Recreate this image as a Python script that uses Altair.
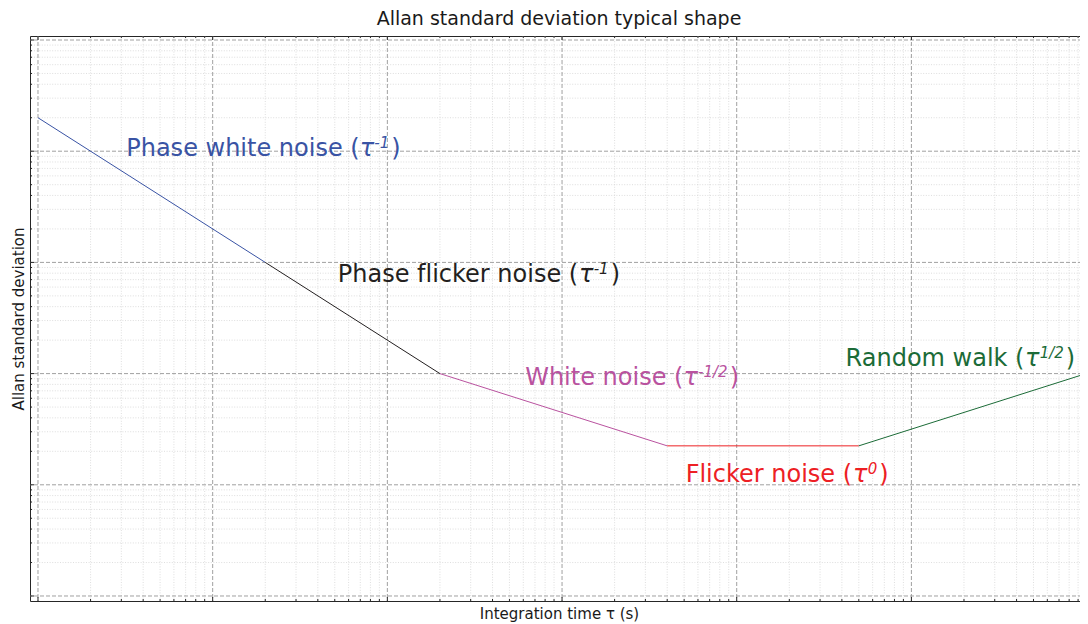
import altair as alt
import pandas as pd

W, H = 1058, 565
FONT = "DejaVu Sans"

# ---- data ----
seg_names = ["Phase white noise", "Phase flicker noise", "White noise", "Flicker noise", "Random walk"]
seg_colors = ["#3953A4", "#231F20", "#B9529F", "#ED2024", "#1B6B37"]
seg_tau = [[1, 20], [20, 200], [200, 4000], [4000, 50000], [50000, 1000000]]
seg_sigma = [[20000, 1000], [1000, 100], [100, 22.4], [22.4, 22.4], [22.4, 100]]

label_main = ["Phase white noise (", "Phase f\u200clicker noise (", "White noise (", "Flicker noise (", "Random walk ("]
label_sup = ["-1", "-1", "-1/2", "0", "1/2"]
label_tau = [3.2, 52, 615, 5100, 42000]
label_sigma = [9100, 665, 79, 10.7, 116]

x_major = [1, 10, 100, 1e3, 1e4, 1e5, 1e6]
y_major = [1, 10, 100, 1e3, 1e4, 1e5]
mult = [2, 3, 4, 5, 6, 7, 8, 9]
x_minor = [m * d for d in [1, 10, 100, 1e3, 1e4, 1e5] for m in mult]
y_minor = [m * d for d in [1, 10, 100, 1e3, 1e4] for m in mult]
x_domain = [0.9, 1.0257e6]
y_domain = [0.9016, 1.0864e5]

# approximate DejaVu Sans advance widths (units of 1/2048 em)
ADV = {" ": 651, "(": 799, ")": 799, "P": 1235, "h": 1298, "a": 1255, "s": 1067, "e": 1260,
       "w": 1675, "i": 569, "t": 803, "n": 1298, "o": 1253, "l": 569, "c": 1126, "k": 1186,
       "r": 842, "F": 1178, "W": 2025, "R": 1423, "d": 1300, "m": 1995, "-": 739, "1": 1303,
       "/": 690, "2": 1303, "0": 1303, "τ": 1170, "f": 721, "\u200c": 0}


def tw(s, size):
    return sum(ADV.get(ch, 1200) for ch in s) / 2048 * size


xs = alt.Scale(type="log", domain=x_domain, nice=False)
ys = alt.Scale(type="log", domain=y_domain, nice=False)
xa = alt.Axis(title="Integration time τ (s)", labels=False, ticks=False, domain=False, grid=False,
              titleFont=FONT, titleFontSize=15, titleFontWeight="normal", titleColor="#1a1a1a",
              titlePadding=5, orient="bottom")
ya = alt.Axis(title="Allan standard deviation", labels=False, ticks=False, domain=False, grid=False,
              titleFont=FONT, titleFontSize=15, titleFontWeight="normal", titleColor="#1a1a1a",
              titlePadding=4, orient="left")


def X(f):
    return alt.X(f, scale=xs, axis=xa)


def Y(f):
    return alt.Y(f, scale=ys, axis=ya)


FRAME = "#262626"
layers = []

# lines
rows = []
for name, ts, ss in zip(seg_names, seg_tau, seg_sigma):
    for t, s in zip(ts, ss):
        rows.append({"seg": name, "tau": t, "sigma": s})
line_df = pd.DataFrame(rows)

# minor grid
layers.append(alt.Chart(pd.DataFrame({"tau": x_minor})).mark_rule(
    color="#d6d6d6", strokeDash=[1, 1.6], strokeWidth=0.8).encode(x=X("tau:Q")))
layers.append(alt.Chart(pd.DataFrame({"sigma": y_minor})).mark_rule(
    color="#d6d6d6", strokeDash=[1, 1.6], strokeWidth=0.8).encode(y=Y("sigma:Q")))
# major grid
layers.append(alt.Chart(pd.DataFrame({"tau": x_major})).mark_rule(
    color="#a0a0a0", strokeDash=[4, 2], strokeWidth=1).encode(x=X("tau:Q")))
layers.append(alt.Chart(pd.DataFrame({"sigma": y_major})).mark_rule(
    color="#a0a0a0", strokeDash=[4, 2], strokeWidth=1).encode(y=Y("sigma:Q")))

# ticks (inward, all sides)
for vals, ln in [(x_major, 4), (x_minor, 2)]:
    d = pd.DataFrame({"tau": vals})
    layers.append(alt.Chart(d).mark_rule(color=FRAME, strokeWidth=1).encode(
        x=X("tau:Q"), y=alt.value(H), y2=alt.value(H - ln)))
    layers.append(alt.Chart(d).mark_rule(color=FRAME, strokeWidth=1).encode(
        x=X("tau:Q"), y=alt.value(0), y2=alt.value(ln)))
for vals, ln in [(y_major, 4), (y_minor, 2)]:
    d = pd.DataFrame({"sigma": vals})
    layers.append(alt.Chart(d).mark_rule(color=FRAME, strokeWidth=1).encode(
        y=Y("sigma:Q"), x=alt.value(0), x2=alt.value(ln)))
    layers.append(alt.Chart(d).mark_rule(color=FRAME, strokeWidth=1).encode(
        y=Y("sigma:Q"), x=alt.value(W), x2=alt.value(W - ln)))

layers.append(alt.Chart(line_df).mark_line(strokeWidth=1, clip=True).encode(
    x=X("tau:Q"), y=Y("sigma:Q"),
    color=alt.Color("seg:N", scale=alt.Scale(domain=seg_names, range=seg_colors), legend=None),
))

# labels
for i in range(len(label_main)):
    d = pd.DataFrame({"tau": [label_tau[i]], "sigma": [label_sigma[i]]})
    col = seg_colors[i]
    w_main = tw(label_main[i], 24)
    w_tau = tw("τ", 24)
    w_sup = tw(label_sup[i], 15)
    enc = dict(x=X("tau:Q"), y=Y("sigma:Q"))
    layers.append(alt.Chart(d).mark_text(
        text=label_main[i], align="left", baseline="alphabetic", font=FONT, fontSize=24,
        color=col).encode(**enc))
    layers.append(alt.Chart(d).mark_text(
        text="τ", align="left", baseline="alphabetic", font=FONT, fontSize=24, fontStyle="italic",
        color=col, dx=w_main).encode(**enc))
    layers.append(alt.Chart(d).mark_text(
        text=label_sup[i], align="left", baseline="alphabetic", font=FONT, fontSize=15,
        fontStyle="italic", color=col, dx=w_main + w_tau + 1, dy=-8).encode(**enc))
    layers.append(alt.Chart(d).mark_text(
        text=")", align="left", baseline="alphabetic", font=FONT, fontSize=24,
        color=col, dx=w_main + w_tau + w_sup + 3).encode(**enc))

chart = alt.layer(*layers).properties(
    width=W, height=H,
    title=alt.TitleParams("Allan standard deviation typical shape", font=FONT, fontSize=19,
                          fontWeight="normal", color="#1a1a1a", offset=7, frame="group",
                          anchor="middle"),
    padding={"left": 22, "top": 28, "right": -8, "bottom": 22},
    autosize=alt.AutoSizeParams(type="none"),
).configure_view(stroke=FRAME, strokeWidth=1)

chart.save("out.html", embed_options={"renderer": "svg", "actions": False})
